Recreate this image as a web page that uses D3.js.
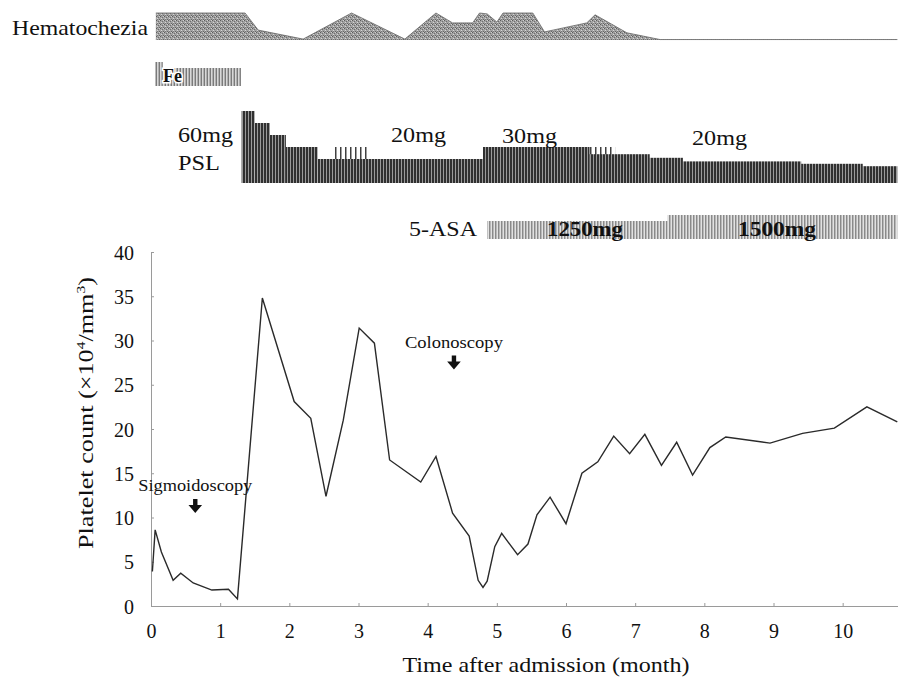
<!DOCTYPE html>
<html>
<head>
<meta charset="utf-8">
<script src="https://cdn.jsdelivr.net/npm/d3@7"></script>
<style>
  body { margin: 0; background: #fff; }
  svg { display: block; }
  text { font-family: "Liberation Serif", "Times New Roman", serif; fill: #111; }
</style>
</head>
<body>
<div id="chart"></div>
<script>
// platelet count over time (month after admission, x10^4/mm3)
var months = [0.02, 0.06, 0.15, 0.32, 0.43, 0.61, 0.88, 1.12, 1.25, 1.61, 2.07, 2.31, 2.53, 2.78, 3.01, 3.23, 3.45,
  3.90, 4.12, 4.36, 4.60, 4.73, 4.80, 4.86, 4.97, 5.07, 5.30, 5.45, 5.58, 5.77, 6.00, 6.23, 6.46, 6.69, 6.92, 7.14,
  7.38, 7.60, 7.83, 8.08, 8.31, 8.95, 9.42, 9.88, 10.35, 10.79];
var platelets = [3.9, 8.6, 6.1, 2.9, 3.7, 2.6, 1.8, 1.9, 0.8, 34.8, 23.1, 21.2, 12.4, 21, 31.4, 29.7, 16.5,
  14.0, 16.9, 10.5, 7.9, 2.9, 2.1, 2.8, 6.7, 8.2, 5.8, 7.0, 10.3, 12.3, 9.3, 15.0, 16.3, 19.2, 17.2, 19.4,
  15.9, 18.5, 14.8, 17.9, 19.1, 18.4, 19.5, 20.1, 22.5, 20.8];

// hematochezia (relative score)
var hemMonths = [0.07, 0.07, 1.36, 1.55, 2.20, 2.90, 3.67, 4.12, 4.36, 4.65, 4.75, 4.86, 5.00, 5.09, 5.52, 5.69, 6.30, 6.42, 6.88, 7.36, 10.79];
var hemScore = [0, 3, 3, 1.1, 0.1, 3, 0.1, 3, 1.9, 1.9, 3, 2.9, 2.0, 3, 3, 0.9, 1.9, 2.8, 0.8, 0.05, 0.05];

// iron
var feStart = [0.06, 0.17];
var feEnd = [0.17, 1.30];
var feLevel = [1, 0.75];

// prednisolone (mg/day)
var pslStart = [1.31, 1.50, 1.72, 1.95, 2.41, 4.80, 6.34, 7.21, 7.69, 9.40, 10.29];
var pslEnd = [1.50, 1.72, 1.95, 2.41, 4.80, 6.34, 7.21, 7.69, 9.40, 10.29, 10.79];
var pslDose = [60, 50, 40, 30, 20, 30, 24, 21, 18, 16, 14];
// alternate-day doses
var pslAltStart = [2.62, 6.34];
var pslAltEnd = [3.16, 6.71];
var pslAltDose = [30, 30];

// 5-ASA (mg/day)
var asaStart = [4.86, 7.47];
var asaEnd = [7.47, 10.79];
var asaDose = [1250, 1500];

var events = ["Sigmoidoscopy", "Colonoscopy"];
var eventMonth = [0.64, 4.38];
var eventLevel = [13.0, 29.2];

var xTicks = d3.range(0, 11);
var yTicks = d3.range(0, 41, 5);

var width = 898, height = 677;

var svg = d3.select("#chart").append("svg")
  .attr("width", width)
  .attr("height", height);

var defs = svg.append("defs");

// vertical stripe fill, parts = [offset, width, colour]
function stripes(id, period, bg, parts) {
  var p = defs.append("pattern")
    .attr("id", id)
    .attr("patternUnits", "userSpaceOnUse")
    .attr("width", period)
    .attr("height", 6);
  p.append("rect").attr("width", period).attr("height", 6).attr("fill", bg);
  parts.forEach(function(d) {
    p.append("rect").attr("x", d[0]).attr("width", d[1]).attr("height", 6).attr("fill", d[2]);
  });
}
stripes("psl", 3, "#9a9a9a", [[0, 2, "#303030"]]);
stripes("pslAlt", 5, "#fff", [[0, 1.5, "#404040"]]);
stripes("fe", 3, "#d8d8d8", [[0, 1, "#7a7a7a"], [2, 1, "#b0b0b0"]]);
stripes("asa", 3, "#e2e2e2", [[0, 1, "#8a8a8a"], [1, 1, "#b8b8b8"]]);

// speckled fill for the hematochezia profile
var hp = defs.append("pattern")
  .attr("id", "hem")
  .attr("patternUnits", "userSpaceOnUse")
  .attr("width", 4).attr("height", 4);
hp.append("rect").attr("width", 4).attr("height", 4).attr("fill", "#a2a2a2");
[[0, 0, "#5c5c5c"], [2, 1, "#6e6e6e"], [1, 2, "#d6d6d6"], [3, 3, "#666"], [3, 0, "#cfcfcf"], [1, 3, "#7a7a7a"]].forEach(function(d) {
  hp.append("rect").attr("x", d[0]).attr("y", d[1]).attr("width", 1).attr("height", 1).attr("fill", d[2]);
});

// scales
var x = d3.scaleLinear().domain([0, 10.8]).range([151, 898]);
var y = d3.scaleLinear().domain([0, 40]).range([606, 252]);
var hemY = d3.scaleLinear().domain([0, 3]).range([40, 13]);
var feY = d3.scaleLinear().domain([0, 1]).range([86, 62]);
var pslY = d3.scaleLinear().domain([0, 60]).range([183, 111]);
var asaY = d3.scaleLinear().domain([500, 1500]).range([239, 215]);

function fit(sel, w) {
  return sel.attr("textLength", w).attr("lengthAdjust", "spacingAndGlyphs");
}

// ---- hematochezia
var hemData = hemMonths.map(function(m, i) { return [m, hemScore[i]]; });
svg.append("path")
  .datum(hemData)
  .attr("fill", "url(#hem)")
  .attr("d", d3.area().x(function(d) { return x(d[0]); }).y0(hemY(0)).y1(function(d) { return hemY(d[1]); }));
svg.append("path")
  .datum(hemData.slice(1))
  .attr("fill", "none")
  .attr("stroke", "#666")
  .attr("stroke-width", 0.8)
  .attr("d", d3.line().x(function(d) { return x(d[0]); }).y(function(d) { return hemY(d[1]); }));
fit(svg.append("text").attr("x", 12).attr("y", 35).attr("font-size", 21).text("Hematochezia"), 136);

// ---- Fe
svg.append("g").selectAll("rect")
  .data(feStart)
  .join("rect")
  .attr("x", function(d) { return x(d); })
  .attr("width", function(d, i) { return x(feEnd[i]) - x(d); })
  .attr("y", function(d, i) { return feY(feLevel[i]); })
  .attr("height", function(d, i) { return feY(0) - feY(feLevel[i]); })
  .attr("fill", "url(#fe)");
fit(svg.append("text").attr("x", 163).attr("y", 82).attr("font-size", 18).attr("font-weight", "bold")
  .attr("stroke", "#fff").attr("stroke-width", 3).attr("paint-order", "stroke").text("Fe"), 19);

// ---- PSL
svg.append("g").selectAll("rect")
  .data(pslAltStart)
  .join("rect")
  .attr("x", function(d) { return x(d); })
  .attr("width", function(d, i) { return x(pslAltEnd[i]) - x(d); })
  .attr("y", function(d, i) { return pslY(pslAltDose[i]); })
  .attr("height", function(d, i) { return pslY(0) - pslY(pslAltDose[i]); })
  .attr("fill", "url(#pslAlt)");
svg.append("g").selectAll("rect")
  .data(pslStart)
  .join("rect")
  .attr("x", function(d) { return x(d); })
  .attr("width", function(d, i) { return x(pslEnd[i]) - x(d); })
  .attr("y", function(d, i) { return pslY(pslDose[i]); })
  .attr("height", function(d, i) { return pslY(0) - pslY(pslDose[i]); })
  .attr("fill", "url(#psl)");
fit(svg.append("text").attr("x", 178).attr("y", 142).attr("font-size", 21).text("60mg"), 55);
fit(svg.append("text").attr("x", 178).attr("y", 170).attr("font-size", 21).text("PSL"), 42);
fit(svg.append("text").attr("x", 391).attr("y", 142).attr("font-size", 21).text("20mg"), 55);
fit(svg.append("text").attr("x", 502).attr("y", 143).attr("font-size", 21).text("30mg"), 55);
fit(svg.append("text").attr("x", 692).attr("y", 145).attr("font-size", 21).text("20mg"), 55);

// ---- 5-ASA
svg.append("g").selectAll("rect")
  .data(asaStart)
  .join("rect")
  .attr("x", function(d) { return x(d); })
  .attr("width", function(d, i) { return x(asaEnd[i]) - x(d); })
  .attr("y", function(d, i) { return asaY(asaDose[i]); })
  .attr("height", function(d, i) { return asaY(500) - asaY(asaDose[i]); })
  .attr("fill", "url(#asa)");
fit(svg.append("text").attr("x", 409).attr("y", 236).attr("font-size", 20).text("5-ASA"), 68);
fit(svg.append("text").attr("x", 547).attr("y", 236).attr("font-size", 20).attr("font-weight", "bold").text("1250mg"), 76);
fit(svg.append("text").attr("x", 738).attr("y", 236).attr("font-size", 20).attr("font-weight", "bold").text("1500mg"), 78);

// ---- axes
var gx = svg.append("g")
  .attr("transform", "translate(0," + y(0) + ")")
  .call(d3.axisBottom(x).tickValues(xTicks).tickSizeInner(-3).tickSizeOuter(0).tickPadding(18));
var gy = svg.append("g")
  .attr("transform", "translate(" + x(0) + ",0)")
  .call(d3.axisLeft(y).tickValues(yTicks).tickSizeInner(-3).tickSizeOuter(0).tickPadding(17));
[gx, gy].forEach(function(g) {
  g.attr("font-family", null).attr("font-size", null);
  g.select(".domain").attr("stroke", "#9a9a9a");
  g.selectAll(".tick line").attr("stroke", "#9a9a9a");
  g.selectAll(".tick text").attr("font-size", 20).attr("fill", "#111");
});
gy.selectAll(".tick text").attr("dy", "0.35em");

// ---- platelet line
var pts = months.map(function(m, i) { return [m, platelets[i]]; });
svg.append("path")
  .datum(pts)
  .attr("fill", "none")
  .attr("stroke", "#2a2a2a")
  .attr("stroke-width", 1.4)
  .attr("stroke-linejoin", "miter")
  .attr("d", d3.line().x(function(d) { return x(d[0]); }).y(function(d) { return y(d[1]); }));

// ---- endoscopy markers
events.forEach(function(name, i) {
  var cx = x(eventMonth[i]), by = y(eventLevel[i]);
  fit(svg.append("text").attr("x", cx).attr("y", by).attr("text-anchor", "middle").attr("font-size", 16).text(name),
    name === "Sigmoidoscopy" ? 114 : 98);
  var t = by + 8;
  svg.append("path")
    .attr("d", "M" + (cx - 2.2) + "," + t + "h4.4v6h4.6l-6.8,8l-6.8,-8h4.6z")
    .attr("fill", "#111");
});

// ---- axis titles
var yt = svg.append("text")
  .attr("transform", "translate(93,413) rotate(-90)")
  .attr("text-anchor", "middle")
  .attr("font-size", 22);
yt.append("tspan").text("Platelet count (×10");
yt.append("tspan").attr("font-size", 13).attr("dy", -8).text("4");
yt.append("tspan").attr("dy", 8).text("/mm");
yt.append("tspan").attr("font-size", 13).attr("dy", -8).text("3");
yt.append("tspan").attr("dy", 8).text(")");
fit(yt, 272);

fit(svg.append("text").attr("x", 546).attr("y", 672).attr("text-anchor", "middle").attr("font-size", 22)
  .text("Time after admission (month)"), 287);
</script>
</body>
</html>
